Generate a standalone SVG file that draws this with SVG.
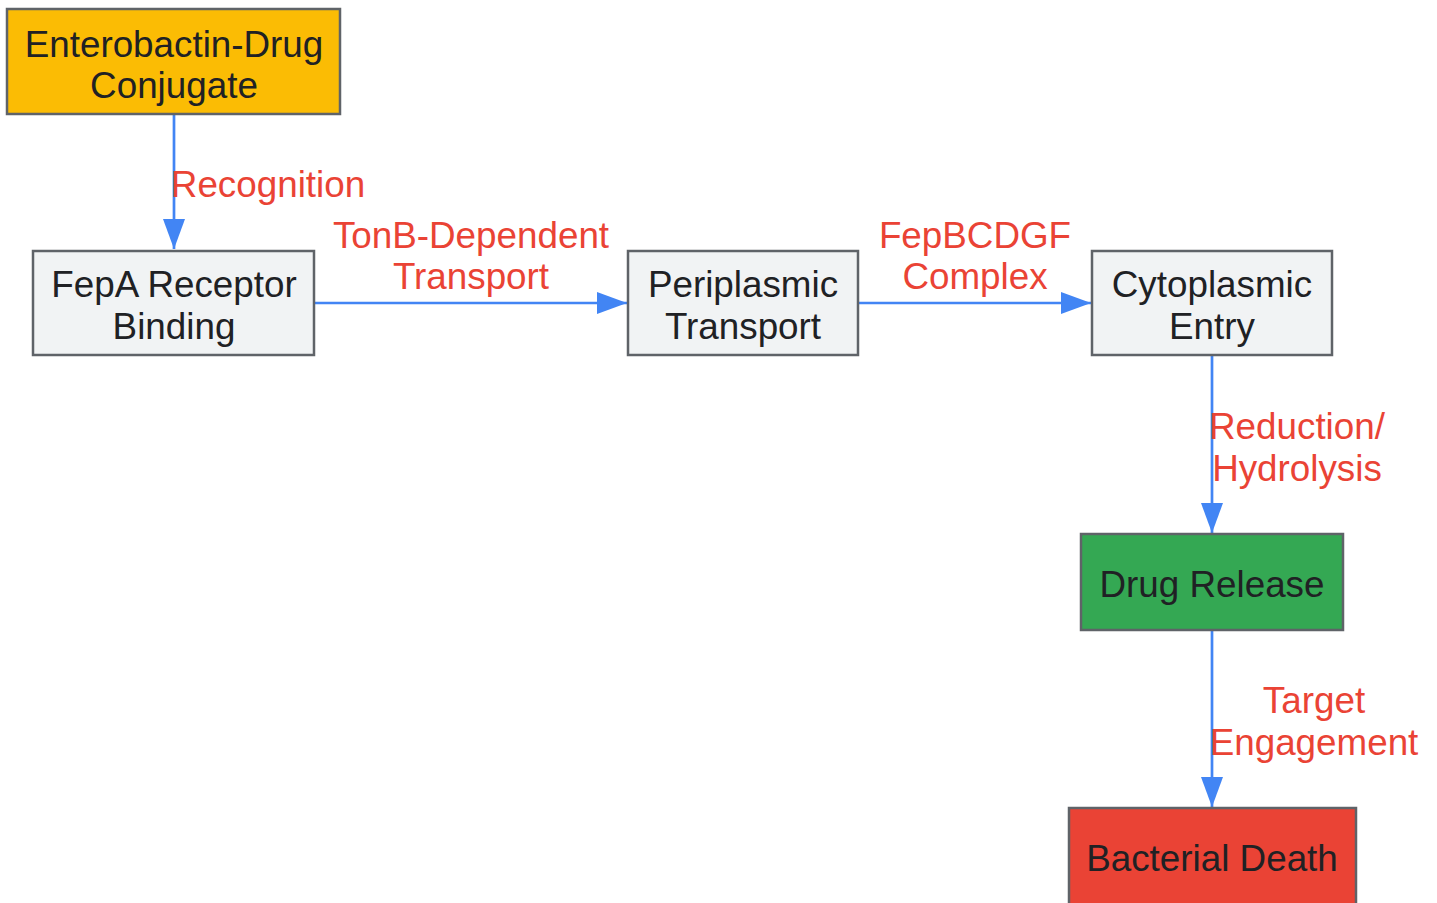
<svg xmlns="http://www.w3.org/2000/svg" width="1437" height="903" viewBox="0 0 1437 903">
<style>
.node rect{stroke:#5f6368;stroke-width:2.5}
.node text{font-family:"Liberation Sans",Arial,sans-serif;font-size:36.8px;fill:#202124;text-anchor:middle}
.edge{stroke:#4285F4;stroke-width:2.7;fill:none}
.lbl{font-family:"Liberation Sans",Arial,sans-serif;font-size:36.8px;fill:#EA4335;text-anchor:middle}
</style>
<defs>
<marker id="a" viewBox="0 0 30 22" refX="30" refY="11" markerWidth="30" markerHeight="22" markerUnits="userSpaceOnUse" orient="auto">
<path d="M0,0 L30,11 L0,22 z" fill="#4285F4"/>
</marker>
</defs>
<rect width="1437" height="903" fill="#ffffff"/>
<g id="connectors">
<path class="edge" d="M174,114 V249" marker-end="url(#a)"/>
<path class="edge" d="M314,303 H627" marker-end="url(#a)"/>
<path class="edge" d="M858,303 H1091" marker-end="url(#a)"/>
<path class="edge" d="M1212,355 V533" marker-end="url(#a)"/>
<path class="edge" d="M1212,630 V807" marker-end="url(#a)"/>
<text class="lbl" x="268" y="197">Recognition</text>
<text class="lbl" x="471" y="248">TonB-Dependent</text>
<text class="lbl" x="471" y="289">Transport</text>
<text class="lbl" x="975" y="248">FepBCDGF</text>
<text class="lbl" x="975" y="289">Complex</text>
<text class="lbl" x="1297" y="439">Reduction/</text>
<text class="lbl" x="1297" y="481">Hydrolysis</text>
<text class="lbl" x="1314" y="713">Target</text>
<text class="lbl" x="1314" y="755">Engagement</text>
</g>
<g id="n1" class="node">
<rect x="7" y="9" width="333" height="105" fill="#FBBC04"/>
<text x="174" y="57">Enterobactin-Drug</text>
<text x="174" y="98">Conjugate</text>
</g>
<g id="n2" class="node">
<rect x="33" y="251" width="281" height="104" fill="#F1F3F4"/>
<text x="174" y="297">FepA Receptor</text>
<text x="174" y="339">Binding</text>
</g>
<g id="n3" class="node">
<rect x="628" y="251" width="230" height="104" fill="#F1F3F4"/>
<text x="743" y="297">Periplasmic</text>
<text x="743" y="339">Transport</text>
</g>
<g id="n4" class="node">
<rect x="1092" y="251" width="240" height="104" fill="#F1F3F4"/>
<text x="1212" y="297">Cytoplasmic</text>
<text x="1212" y="339">Entry</text>
</g>
<g id="n5" class="node">
<rect x="1081" y="534" width="262" height="96" fill="#34A853"/>
<text x="1212" y="597">Drug Release</text>
</g>
<g id="n6" class="node">
<rect x="1069" y="808" width="287" height="100" fill="#EA4335"/>
<text x="1212" y="871">Bacterial Death</text>
</g>
</svg>
